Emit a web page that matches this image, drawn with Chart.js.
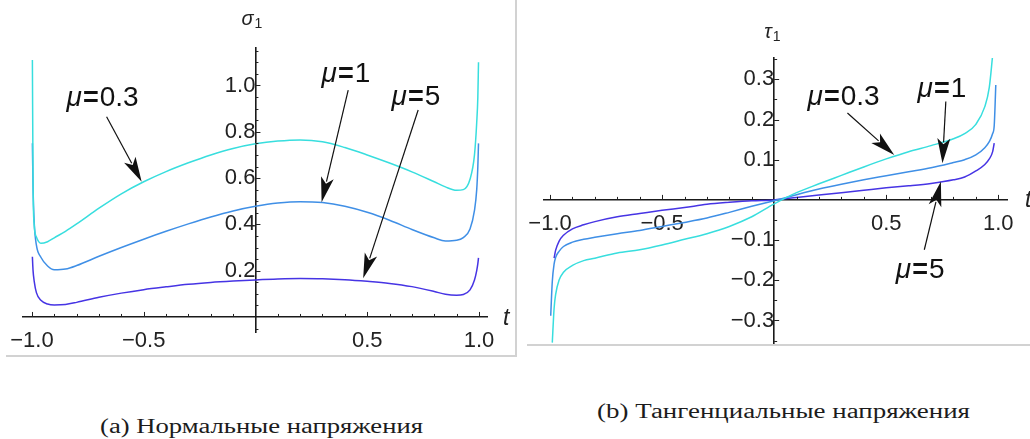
<!DOCTYPE html>
<html><head><meta charset="utf-8">
<script src="https://cdn.jsdelivr.net/npm/chart.js@4.4.1/dist/chart.umd.min.js"></script>
<style>
html,body{margin:0;padding:0;background:#fff;width:1030px;height:439px;overflow:hidden;position:relative}
canvas{position:absolute;top:0}
#c1{left:0}
#c2{left:518px}
.frame{position:absolute;background:#d2d2d2}
.cap{position:absolute;font-family:"Liberation Serif","Times New Roman",serif;font-size:20px;line-height:20px;color:#1c1c1c;white-space:nowrap;transform-origin:0 0}
</style></head><body>
<div class="frame" style="left:515px;top:0;width:2px;height:357px"></div>
<div class="frame" style="left:6px;top:355px;width:511px;height:2px"></div>
<div class="frame" style="left:527px;top:344px;width:503px;height:2px"></div>
<canvas id="c1" width="516" height="362"></canvas>
<canvas id="c2" width="512" height="365"></canvas>
<div class="cap" id="capA" style="left:100px;top:416px" data-w="323">(a) Нормальные напряжения</div>
<div class="cap" id="capB" style="left:597px;top:401px" data-w="373">(b) Тангенциальные напряжения</div>
<script>
// ---------- data: normal stresses sigma_1(t) ----------
const sigmaT = [-0.998, -0.995, -0.99, -0.98, -0.96, -0.93, -0.9, -0.85, -0.8, -0.7, -0.6, -0.5, -0.4, -0.3, -0.2, -0.1, 0, 0.1, 0.2, 0.3, 0.4, 0.5, 0.6, 0.7, 0.8, 0.85, 0.9, 0.93, 0.96, 0.98, 0.99, 0.995, 0.998];
const sigmaMu03 = [1.11, 0.58, 0.40, 0.345, 0.318, 0.325, 0.342, 0.37, 0.402, 0.47, 0.532, 0.584, 0.628, 0.666, 0.70, 0.728, 0.748, 0.76, 0.765, 0.757, 0.732, 0.70, 0.665, 0.627, 0.584, 0.562, 0.547, 0.55, 0.595, 0.70, 0.84, 0.95, 1.10];
const sigmaMu1 = [0.75, 0.56, 0.41, 0.31, 0.258, 0.22, 0.204, 0.207, 0.222, 0.262, 0.300, 0.336, 0.370, 0.402, 0.432, 0.458, 0.478, 0.492, 0.498, 0.494, 0.478, 0.452, 0.418, 0.378, 0.342, 0.328, 0.331, 0.343, 0.38, 0.46, 0.55, 0.65, 0.75];
const sigmaMu5 = [0.26, 0.20, 0.155, 0.105, 0.072, 0.056, 0.052, 0.054, 0.063, 0.085, 0.103, 0.118, 0.13, 0.141, 0.149, 0.155, 0.16, 0.164, 0.166, 0.165, 0.161, 0.154, 0.145, 0.131, 0.11, 0.098, 0.094, 0.097, 0.117, 0.16, 0.2, 0.23, 0.255];
const sigmaXTicks = [-1, -0.5, 0.5, 1];
const sigmaXTickLabels = ['\u22121.0', '\u22120.5', '0.5', '1.0'];
const sigmaYTicks = [0.2, 0.4, 0.6, 0.8, 1.0];
const sigmaYTickLabels = ['0.2', '0.4', '0.6', '0.8', '1.0'];
const sigmaNotes = [
  {mu: '0.3', tx: -0.845, ty: 0.911, fromX: -0.666, fromY: 0.865, toX: -0.509, toY: 0.584},
  {mu: '1',   tx: 0.296,  ty: 1.016, fromX: 0.415,  fromY: 0.98,  toX: 0.296,  toY: 0.496},
  {mu: '5',   tx: 0.609,  ty: 0.916, fromX: 0.728,  fromY: 0.894, toX: 0.482,  toY: 0.167}
];

// ---------- data: tangential stresses tau_1(t) ----------
const tauT = [-0.997, -0.99, -0.982, -0.975, -0.96, -0.94, -0.9, -0.85, -0.8, -0.7, -0.6, -0.5, -0.4, -0.3, -0.2, -0.1, 0, 0.1, 0.2, 0.3, 0.4, 0.5, 0.6, 0.7, 0.8, 0.85, 0.9, 0.94, 0.96, 0.975, 0.982, 0.989];
const tauMu03 = [null, -0.355, -0.27, -0.235, -0.2, -0.18, -0.163, -0.151, -0.145, -0.132, -0.124, -0.112, -0.098, -0.084, -0.066, -0.042, -0.01, 0.018, 0.04, 0.061, 0.082, 0.102, 0.12, 0.135, 0.152, 0.165, 0.188, 0.232, 0.28, 0.36, null, null];
const tauMu1 = [-0.288, -0.203, -0.16, -0.143, -0.128, -0.116, -0.105, -0.098, -0.093, -0.084, -0.076, -0.066, -0.056, -0.045, -0.031, -0.016, -0.002, 0.013, 0.027, 0.039, 0.05, 0.06, 0.07, 0.08, 0.093, 0.1, 0.112, 0.13, 0.145, 0.165, 0.185, 0.286];
const tauMu5 = [null, null, -0.145, -0.125, -0.103, -0.088, -0.072, -0.062, -0.054, -0.042, -0.034, -0.026, -0.019, -0.011, -0.006, -0.002, 0, 0.006, 0.012, 0.018, 0.024, 0.03, 0.035, 0.041, 0.05, 0.057, 0.072, 0.088, 0.102, 0.12, 0.141, null];
const tauXTicks = [-1, -0.5, 0.5, 1];
const tauXTickLabels = ['\u22121.0', '\u22120.5', '0.5', '1.0'];
const tauYTicks = [-0.3, -0.2, -0.1, 0.1, 0.2, 0.3];
const tauYTickLabels = ['\u22120.3', '\u22120.2', '\u22120.1', '0.1', '0.2', '0.3'];
const tauNotes = [
  {mu: '0.3', tx: 0.149, ty: 0.236,  fromX: 0.327, fromY: 0.216,  toX: 0.536, toY: 0.112},
  {mu: '1',   tx: 0.64,  ty: 0.257,  fromX: 0.766, fromY: 0.245,  toX: 0.751, toY: 0.091},
  {mu: '5',   tx: 0.543, ty: -0.195, fromX: 0.67,  fromY: -0.124, toX: 0.744, toY: 0.046}
];

const COLORS = {mu03: '#38dede', mu1: '#3f8fe6', mu5: '#4634e4'};
const FONT = '"Liberation Sans", Arial, sans-serif';
const INK = '#222';

function pts(ts, vs) {
  const out = [];
  ts.forEach((t, i) => { if (vs[i] !== null) out.push({x: t, y: vs[i]}); });
  return out;
}

const decorPlugin = {
  id: 'decor',
  afterDraw(chart, args, o) {
    const ctx = chart.ctx, ca = chart.chartArea;
    const xs = chart.scales.x, ys = chart.scales.y;
    const ax = xs.getPixelForValue(0), ay = ys.getPixelForValue(0);
    ctx.save();
    // inward tick marks
    ctx.strokeStyle = INK; ctx.lineWidth = 1;
    ctx.beginPath();
    for (let k = -10; k <= 10; k++) {
      if (k === 0) continue;
      const px = Math.round(xs.getPixelForValue(k / 10)) + 0.5;
      const len = (k % 5 === 0) ? 5 : 3;
      ctx.moveTo(px, ay); ctx.lineTo(px, ay - len);
    }
    for (let k = o.yk0; k <= o.yk1; k++) {
      if (k === 0) continue;
      const py = Math.round(ys.getPixelForValue(k * o.ystep)) + 0.5;
      const len = (k % o.ymajor === 0) ? 5 : 3;
      ctx.moveTo(ax, py); ctx.lineTo(ax + len, py);
    }
    ctx.stroke();
    // axis titles
    ctx.fillStyle = INK;
    ctx.textBaseline = 'alphabetic'; ctx.textAlign = 'left';
    ctx.font = 'italic 23px ' + FONT;
    ctx.fillText('t', ca.right + o.tdx, ay + o.tdy);
    ctx.font = 'italic 20px ' + FONT;
    ctx.fillText(o.yname, ax + o.ndx, ca.top + o.ndy);
    const w = ctx.measureText(o.yname).width;
    ctx.font = '14px ' + FONT;
    ctx.fillText('1', ax + o.ndx + w + 1, ca.top + o.ndy + 3);
    // annotations
    o.notes.forEach(n => {
      const x1 = xs.getPixelForValue(n.fromX), y1 = ys.getPixelForValue(n.fromY);
      const x2 = xs.getPixelForValue(n.toX), y2 = ys.getPixelForValue(n.toY);
      const ang = Math.atan2(y2 - y1, x2 - x1);
      const L = 25, H = 6.5;
      const c = Math.cos(ang), s = Math.sin(ang);
      ctx.strokeStyle = '#111'; ctx.lineWidth = 1.2;
      ctx.beginPath(); ctx.moveTo(x1, y1);
      ctx.lineTo(x2 - c * (L - 4), y2 - s * (L - 4)); ctx.stroke();
      ctx.fillStyle = '#111';
      ctx.beginPath();
      ctx.moveTo(x2, y2);
      ctx.lineTo(x2 - c * L - s * H, y2 - s * L + c * H);
      ctx.lineTo(x2 - c * (L - 6), y2 - s * (L - 6));
      ctx.lineTo(x2 - c * L + s * H, y2 - s * L - c * H);
      ctx.closePath(); ctx.fill();
      const lx = xs.getPixelForValue(n.tx), ly = ys.getPixelForValue(n.ty);
      ctx.fillStyle = '#111';
      ctx.font = 'italic 28px ' + FONT;
      ctx.fillText('\u03bc', lx, ly);
      let cx = lx + ctx.measureText('\u03bc').width + 1;
      ctx.font = 'bold 27px ' + FONT;
      ctx.fillText('=', cx, ly);
      cx += ctx.measureText('=').width + 1;
      ctx.font = '28px ' + FONT;
      ctx.fillText(n.mu, cx, ly);
    });
    ctx.restore();
  }
};

function makeChart(id, cfg) {
  const tickFont = {family: FONT, size: 22};
  return new Chart(document.getElementById(id), {
    type: 'line',
    data: {
      datasets: [
        {label: '\u03bc=0.3', data: pts(cfg.t, cfg.s03), borderColor: COLORS.mu03},
        {label: '\u03bc=1', data: pts(cfg.t, cfg.s1), borderColor: COLORS.mu1},
        {label: '\u03bc=5', data: pts(cfg.t, cfg.s5), borderColor: COLORS.mu5}
      ].map(d => Object.assign(d, {borderWidth: 1.5, pointRadius: 0, fill: false, cubicInterpolationMode: 'monotone'}))
    },
    options: {
      responsive: false, animation: false,
      layout: {padding: cfg.pad},
      plugins: {legend: {display: false}, tooltip: {enabled: false}, decor: cfg.decor},
      scales: {
        x: {
          type: 'linear', position: {y: 0}, min: cfg.xmin, max: cfg.xmax,
          afterBuildTicks: s => { s.ticks = cfg.xTicks.map(v => ({value: v})); },
          ticks: {font: tickFont, color: INK, autoSkip: false, maxRotation: 0,
                  callback: (v) => cfg.xLabels[cfg.xTicks.indexOf(v)]},
          grid: {display: false, drawTicks: true, tickLength: 8},
          border: {display: true, color: '#1a1a1a', width: 1.6}
        },
        y: {
          type: 'linear', position: {x: 0}, min: cfg.ymin, max: cfg.ymax,
          afterBuildTicks: s => { s.ticks = cfg.yTicks.map(v => ({value: v})); },
          ticks: {font: tickFont, color: INK, autoSkip: false,
                  callback: (v) => cfg.yLabels[cfg.yTicks.indexOf(v)]},
          grid: {display: false, drawTicks: true, tickLength: 8},
          border: {display: true, color: '#1a1a1a', width: 1.6}
        }
      }
    },
    plugins: [decorPlugin]
  });
}

makeChart('c1', {
  t: sigmaT, s03: sigmaMu03, s1: sigmaMu1, s5: sigmaMu5,
  xmin: -1.040, xmax: 1.036, ymin: -0.065, ymax: 1.162,
  xTicks: sigmaXTicks, xLabels: sigmaXTickLabels, yTicks: sigmaYTicks, yLabels: sigmaYTickLabels,
  pad: {left: 23, right: 29, top: 48, bottom: 30},
  decor: {notes: sigmaNotes, yname: '\u03c3', yk0: -1, yk1: 23, ystep: 0.05, ymajor: 4,
          tdx: 16, tdy: 8, ndx: -14, ndy: -23}
});
makeChart('c2', {
  t: tauT, s03: tauMu03, s1: tauMu1, s5: tauMu5,
  xmin: -1.027, xmax: 1.039, ymin: -0.356, ymax: 0.353,
  xTicks: tauXTicks, xLabels: tauXTickLabels, yTicks: tauYTicks, yLabels: tauYTickLabels,
  pad: {left: 26, right: 23, top: 58, bottom: 22},
  decor: {notes: tauNotes, yname: '\u03c4', yk0: -7, yk1: 7, ystep: 0.05, ymajor: 2,
          tdx: 18, tdy: 7, ndx: -10, ndy: -20}
});

document.querySelectorAll('.cap').forEach(el => {
  const target = +el.dataset.w;
  const w = el.getBoundingClientRect().width;
  el.style.transform = 'scaleX(' + (target / w).toFixed(4) + ')';
});
</script>
</body></html>
